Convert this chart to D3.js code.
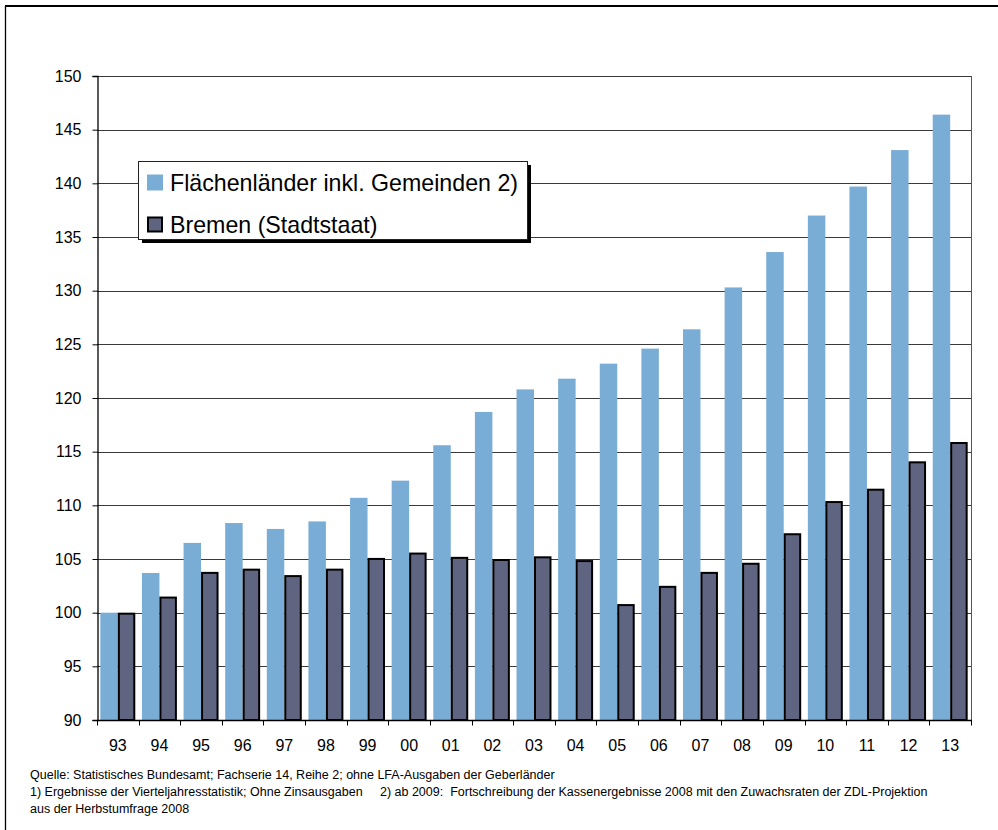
<!DOCTYPE html>
<html>
<head>
<meta charset="utf-8">
<script src="https://cdn.jsdelivr.net/npm/d3@7"></script>
<style>
  html, body { margin: 0; padding: 0; background: #fff; }
  svg { display: block; font-family: "Liberation Sans", Arial, sans-serif; }
</style>
</head>
<body>
<svg id="chart" width="998" height="830"></svg>
<script>
// Index of expenditure development (1993 = 100)
const years = ["93","94","95","96","97","98","99","00","01","02","03","04","05","06","07","08","09","10","11","12","13"];
const flaechenlaender = [100.0,103.7,106.5,108.35,107.8,108.5,110.7,112.3,115.6,118.7,120.8,121.8,123.2,124.6,126.4,130.3,133.6,137.0,139.7,143.1,146.4];
const bremen = [100.0,101.5,103.8,104.1,103.5,104.1,105.1,105.6,105.2,105.0,105.25,104.9,100.8,102.5,103.8,104.65,107.4,110.4,111.55,114.1,115.9];
const yTicks = [90,95,100,105,110,115,120,125,130,135,140,145,150];
const seriesNames = ["Flächenländer inkl. Gemeinden 2)", "Bremen (Stadtstaat)"];
const footnotes = [
  "Quelle: Statistisches Bundesamt; Fachserie 14, Reihe 2; ohne LFA-Ausgaben der Geberländer",
  "1) Ergebnisse der Vierteljahresstatistik; Ohne Zinsausgaben     2) ab 2009:  Fortschreibung der Kassenergebnisse 2008 mit den Zuwachsraten der ZDL-Projektion",
  "aus der Herbstumfrage 2008"
];

const colors = ["#7aadd6", "#5f6480"];

const svg = d3.select("#chart");
const plot = { left: 97, right: 971, top: 76, bottom: 720 };

// outer frame (top and left edges)
svg.append("line").attr("x1", 5).attr("x2", 998).attr("y1", 6).attr("y2", 6)
  .attr("stroke", "#000").attr("stroke-width", 2);
svg.append("line").attr("x1", 5.5).attr("x2", 5.5).attr("y1", 6).attr("y2", 830)
  .attr("stroke", "#000").attr("stroke-width", 1.3);

const x = d3.scaleBand().domain(years).range([plot.left, plot.right])
  .paddingInner(0.16).paddingOuter(0.08);
const xs = d3.scaleBand().domain([0, 1]).range([0, x.bandwidth()]);
const y = d3.scaleLinear().domain([90, 150]).range([plot.bottom, plot.top]);

// horizontal gridlines
svg.append("g").selectAll("line").data(yTicks.filter(d => d > 90)).join("line")
  .attr("x1", plot.left).attr("x2", plot.right)
  .attr("y1", d => Math.round(y(d)) + 0.5).attr("y2", d => Math.round(y(d)) + 0.5)
  .attr("stroke", "#3a3a3a").attr("stroke-width", 1);

// right edge of plot area
svg.append("line").attr("x1", plot.right + 0.5).attr("x2", plot.right + 0.5)
  .attr("y1", plot.top).attr("y2", plot.bottom)
  .attr("stroke", "#555").attr("stroke-width", 1);

// bars
const groups = svg.append("g").selectAll("g").data(years).join("g")
  .attr("transform", d => `translate(${x(d)},0)`);

groups.append("rect")
  .attr("x", xs(0))
  .attr("width", xs.bandwidth())
  .attr("y", (d, i) => y(flaechenlaender[i]))
  .attr("height", (d, i) => y(90) - y(flaechenlaender[i]))
  .attr("fill", colors[0]);

groups.append("rect")
  .attr("x", xs(1) + 1)
  .attr("width", xs.bandwidth() - 2)
  .attr("y", (d, i) => y(bremen[i]) + 1)
  .attr("height", (d, i) => y(90) - y(bremen[i]) - 1)
  .attr("fill", colors[1])
  .attr("stroke", "#000").attr("stroke-width", 2);

// y axis
const yAxis = d3.axisLeft(y).tickValues(yTicks).tickSize(5).tickPadding(11);
const gy = svg.append("g").attr("transform", `translate(${plot.left + 0.5},0)`).call(yAxis);
gy.select(".domain").attr("stroke", "#000").attr("stroke-width", 1.3);
gy.selectAll(".tick line").attr("stroke", "#000");
gy.selectAll("text").attr("font-size", 16).attr("fill", "#000")
  .attr("font-family", "Liberation Sans, Arial, sans-serif");

// x axis: category boundaries as ticks
const gx = svg.append("g").attr("transform", `translate(0,${plot.bottom + 0.5})`);
gx.append("line").attr("x1", plot.left).attr("x2", plot.right + 1)
  .attr("stroke", "#000").attr("stroke-width", 1.3);
const step = x.step();
const bounds = d3.range(years.length + 1).map(i => x(years[0]) - x.paddingOuter() * step + i * step);
gx.selectAll(".bt").data(bounds).join("line").attr("class", "bt")
  .attr("x1", d => Math.round(d) + 0.5).attr("x2", d => Math.round(d) + 0.5)
  .attr("y1", 0).attr("y2", 5).attr("stroke", "#000");
gx.selectAll("text").data(years).join("text")
  .attr("x", d => x(d) + x.bandwidth() / 2)
  .attr("y", 30)
  .attr("text-anchor", "middle")
  .attr("font-size", 16)
  .text(d => d);

// legend
const lg = svg.append("g");
const lb = { x: 138, y: 161, w: 389, h: 78 };
lg.append("rect").attr("x", lb.x + 4).attr("y", lb.y + 4).attr("width", lb.w).attr("height", lb.h).attr("fill", "#000");
lg.append("rect").attr("x", lb.x + 0.5).attr("y", lb.y + 0.5).attr("width", lb.w).attr("height", lb.h)
  .attr("fill", "#fff").attr("stroke", "#222").attr("stroke-width", 1);
const rows = [{ base: 191 }, { base: 233 }];
rows.forEach((r, i) => {
  if (i === 0) {
    lg.append("rect").attr("x", 147).attr("y", r.base - 16.5).attr("width", 16).attr("height", 16).attr("fill", colors[0]);
  } else {
    lg.append("rect").attr("x", 148).attr("y", r.base - 15.5).attr("width", 14).attr("height", 14)
      .attr("fill", colors[1]).attr("stroke", "#000").attr("stroke-width", 2);
  }
  lg.append("text").attr("x", 170).attr("y", r.base).attr("font-size", 23.2).attr("fill", "#000").text(seriesNames[i]);
});

// footnotes
svg.append("g").selectAll("text").data(footnotes).join("text")
  .attr("x", 30).attr("y", (d, i) => 779 + i * 17)
  .attr("font-size", 12.5).attr("fill", "#000")
  .attr("xml:space", "preserve").style("white-space", "pre")
  .text(d => d);
</script>
</body>
</html>
